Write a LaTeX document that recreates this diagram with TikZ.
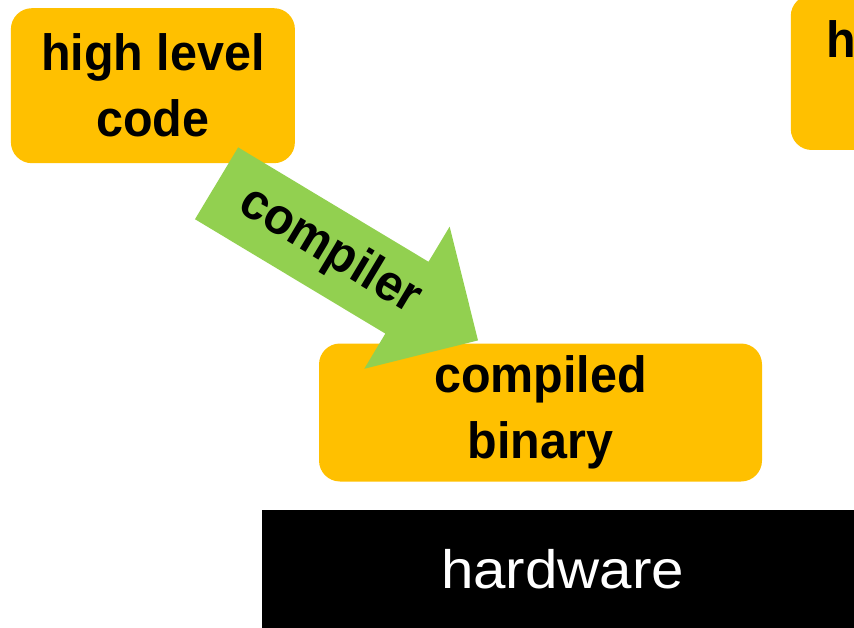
\documentclass[tikz,border=0pt]{standalone}
\usepackage{fontspec}
\setmainfont{Liberation Sans}[FakeStretch=0.95]
\newfontfamily\hwfont[FakeStretch=1.08]{Liberation Sans}
\usetikzlibrary{calc,shapes.arrows}
\definecolor{stageorange}{HTML}{FFC000}
\definecolor{compilegreen}{HTML}{92D050}
\tikzset{
  stage/.style = {
    fill=stageorange,
    rounded corners=21pt,
    inner sep=0pt
  },
  translate/.style = {
    single arrow,
    fill=compilegreen,
    single arrow head extend=41pt,
    minimum height=305pt,
    inner xsep=0pt,
    inner ysep=41.7pt
  },
  machine/.style = {
    fill=black,
    inner sep=0pt
  },
  stage class/.style={
    every text node part/.style={
      align=center,
      font={\fontsize{51}{66}\selectfont\bfseries}
    }
  },
  machine class/.style={
    every text node part/.style={
      font={\hwfont\fontsize{54}{64}\selectfont},
      text=white
    }
  },
}

\begin{document}
\begin{tikzpicture}[x=1pt,y=-1pt]
  \useasboundingbox (0,0) rectangle (854,628);
  \clip (0,0) rectangle (854,628);

  \foreach \stagename/\xpos/\ypos/\lead in {
    sourceleft/152.9/85.7/0,
    sourceright/932.8/72.5/10
  } {
    \node[stage, stage class, minimum width=284pt, minimum height=155pt] (\stagename) at (\xpos,\ypos) {\hspace*{\lead pt}high level\\code};
  }

  \node[stage, stage class, minimum width=443pt, minimum height=138pt] (binary) at (540.5,412.5) {compiled\\binary};

  \node[machine, machine class, minimum width=601pt, minimum height=119pt, anchor=north west] (hardware) at (262,509.3) {hardware};

  \node[translate, rotate=-31, anchor=tail] (compiler) at (216.4,183.2) {};
  \node[stage class, rotate=-31] (compilerlabel) at ($(compiler.tail)!0.433!(compiler.tip)$) {compiler};

\end{tikzpicture}
\end{document}
